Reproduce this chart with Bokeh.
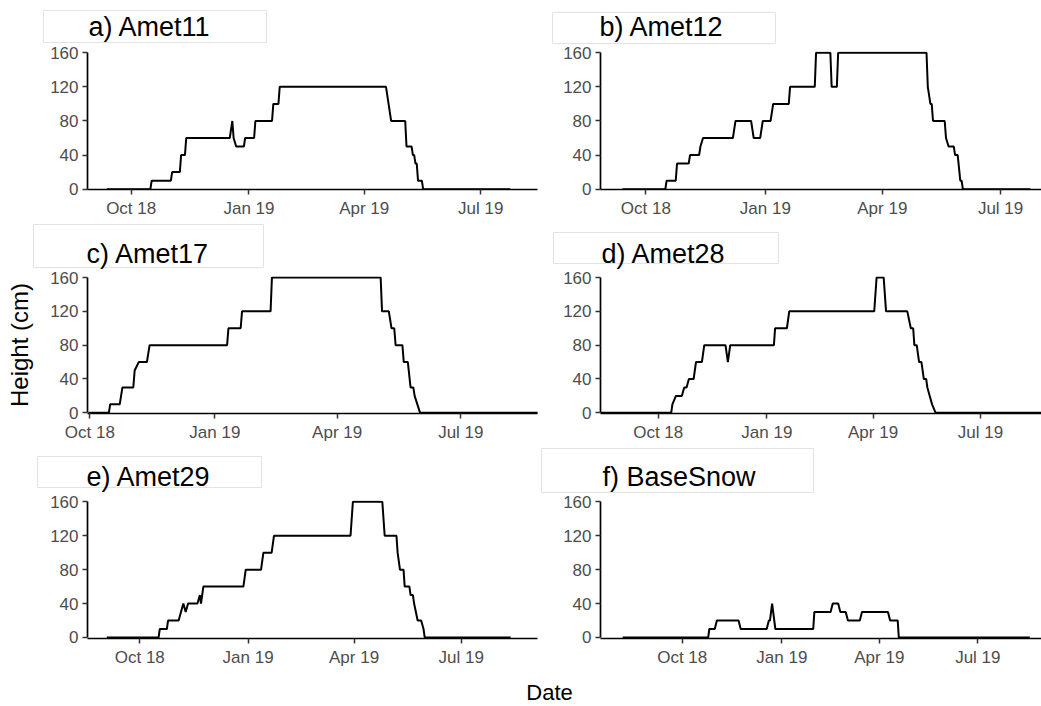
from math import pi
import pandas as pd
from bokeh.plotting import figure
from bokeh.layouts import column, row
from bokeh.models import Range1d, FixedTicker, DatetimeTickFormatter, LinearAxis
from bokeh.core.properties import value
from bokeh.embed import file_html
from bokeh.resources import INLINE

# ---------------- data ----------------
tick_dates = ["2018-10-01", "2019-01-01", "2019-04-01", "2019-07-01"]
tick_labels = ["Oct 18", "Jan 19", "Apr 19", "Jul 19"]
y_ticks = [0, 40, 80, 120, 160]
panel_titles = ["a) Amet11", "b) Amet12", "c) Amet17", "d) Amet28", "e) Amet29", "f) BaseSnow"]
y_label = "Height (cm)"
x_label = "Date"

a_dates = ["2018-09-12", "2018-10-16", "2018-10-17", "2018-11-01", "2018-11-02", "2018-11-08", "2018-11-09",
           "2018-11-12", "2018-11-13", "2018-12-17", "2018-12-19", "2018-12-20", "2018-12-22", "2018-12-28",
           "2018-12-29", "2019-01-05", "2019-01-06", "2019-01-19", "2019-01-20", "2019-01-24", "2019-01-25",
           "2019-04-18", "2019-04-20", "2019-04-22", "2019-05-03", "2019-05-04", "2019-05-08", "2019-05-09",
           "2019-05-10", "2019-05-11", "2019-05-12", "2019-05-13", "2019-05-16", "2019-05-17", "2019-07-24"]
a_vals = [0, 0, 10, 10, 20, 20, 40, 40, 60, 60, 80, 60, 50, 50, 60, 60, 80, 80, 100, 100, 120,
          120, 100, 80, 80, 50, 50, 40, 40, 30, 30, 10, 10, 0, 0]

b_dates = ["2018-09-13", "2018-10-16", "2018-10-17", "2018-10-24", "2018-10-25", "2018-11-03", "2018-11-04",
           "2018-11-11", "2018-11-12", "2018-11-14", "2018-12-07", "2018-12-09", "2018-12-21", "2018-12-23",
           "2018-12-28", "2018-12-30", "2019-01-05", "2019-01-07", "2019-01-19", "2019-01-20", "2019-02-08",
           "2019-02-09", "2019-02-20", "2019-02-21", "2019-02-25", "2019-02-26", "2019-05-05", "2019-05-06",
           "2019-05-08", "2019-05-09", "2019-05-10", "2019-05-19", "2019-05-20", "2019-05-22", "2019-05-26",
           "2019-05-27", "2019-05-29", "2019-05-31", "2019-06-01", "2019-06-02", "2019-07-24"]
b_vals = [0, 0, 10, 10, 30, 30, 40, 40, 50, 60, 60, 80, 80, 60, 60, 80, 80, 100, 100, 120, 120,
          160, 160, 120, 120, 160, 160, 120, 100, 100, 80, 80, 60, 50, 50, 40, 40, 10, 10, 0, 0]

c_dates = ["2018-09-30", "2018-10-15", "2018-10-16", "2018-10-23", "2018-10-25", "2018-11-02", "2018-11-03",
           "2018-11-06", "2018-11-12", "2018-11-14", "2019-01-10", "2019-01-11", "2019-01-20", "2019-01-21",
           "2019-02-11", "2019-02-12", "2019-05-03", "2019-05-04", "2019-05-09", "2019-05-11", "2019-05-13",
           "2019-05-14", "2019-05-19", "2019-05-20", "2019-05-23", "2019-05-25", "2019-05-27", "2019-05-28",
           "2019-05-30", "2019-06-01", "2019-08-31"]
c_vals = [0, 0, 10, 10, 30, 30, 50, 60, 60, 80, 80, 100, 100, 120, 120, 160, 160, 120, 120, 100,
          100, 80, 80, 60, 60, 30, 30, 20, 10, 0, 0]

d_dates = ["2018-08-13", "2018-10-12", "2018-10-13", "2018-10-16", "2018-10-21", "2018-10-23", "2018-10-25",
           "2018-10-27", "2018-10-31", "2018-11-02", "2018-11-07", "2018-11-09", "2018-11-27", "2018-11-29",
           "2018-12-01", "2019-01-07", "2019-01-08", "2019-01-18", "2019-01-20", "2019-04-02", "2019-04-04",
           "2019-04-10", "2019-04-12", "2019-04-30", "2019-05-03", "2019-05-05", "2019-05-06", "2019-05-08",
           "2019-05-10", "2019-05-12", "2019-05-14", "2019-05-16", "2019-05-17", "2019-05-19", "2019-05-21",
           "2019-05-24", "2019-08-31"]
d_vals = [0, 0, 10, 20, 20, 30, 30, 40, 40, 60, 60, 80, 80, 60, 80, 80, 100, 100, 120, 120, 160,
          160, 120, 120, 100, 100, 80, 80, 60, 60, 40, 40, 30, 20, 10, 0, 0]

e_dates = ["2018-09-03", "2018-10-17", "2018-10-18", "2018-10-24", "2018-10-25", "2018-11-03", "2018-11-05",
           "2018-11-07", "2018-11-09", "2018-11-11", "2018-11-19", "2018-11-21", "2018-11-22", "2018-11-24",
           "2018-12-28", "2018-12-30", "2019-01-12", "2019-01-14", "2019-01-21", "2019-01-23", "2019-03-29",
           "2019-03-31", "2019-04-25", "2019-04-27", "2019-05-07", "2019-05-08", "2019-05-10", "2019-05-13",
           "2019-05-14", "2019-05-18", "2019-05-19", "2019-05-21", "2019-05-22", "2019-05-25", "2019-05-28",
           "2019-05-30", "2019-05-31", "2019-08-12"]
e_vals = [0, 0, 10, 10, 20, 20, 30, 40, 30, 40, 40, 50, 40, 60, 60, 80, 80, 100, 100, 120, 120,
          160, 160, 120, 120, 100, 80, 80, 60, 60, 50, 50, 40, 20, 20, 10, 0, 0]

f_dates = ["2018-08-07", "2018-10-25", "2018-10-26", "2018-10-31", "2018-11-02", "2018-11-22", "2018-11-24",
           "2018-12-18", "2018-12-20", "2018-12-21", "2018-12-23", "2018-12-26", "2019-01-30", "2019-01-31",
           "2019-02-15", "2019-02-17", "2019-02-22", "2019-02-24", "2019-03-01", "2019-03-03", "2019-03-14",
           "2019-03-16", "2019-04-09", "2019-04-11", "2019-04-18", "2019-04-19", "2019-08-18"]
f_vals = [0, 0, 10, 10, 20, 20, 10, 10, 20, 20, 40, 10, 10, 30, 30, 40, 40, 30, 30, 20, 20,
          30, 30, 20, 20, 0, 0]

series_dates = [a_dates, b_dates, c_dates, d_dates, e_dates, f_dates]
series_vals = [a_vals, b_vals, c_vals, d_vals, e_vals, f_vals]

# ---------------- layout / style constants (page pixels) ----------------
FONT = "Liberation Sans"
ORIGIN = pd.Timestamp("2018-10-01")
TOTAL_W = 1041
# x range of each panel in days relative to ORIGIN (free x scales)
x_span_days = [(-34.1, 317.3), (-34.9, 304.5), (-1.7, 329.4), (-48.9, 324.7), (-44.4, 337.8), (-75.5, 331.8)]
y_spans = [(-0.4, 161.5), (-0.8, 161.2), (-1.2, 161.5)]

LEFT_W, RIGHT_W = 539, 502
LEFT_MB = (87, 2)
RIGHT_MB = (61, 0)

STRIP_TOP = [0, 220, 444]
STRIP_H = [44, 50, 50]
PANEL_H = [176, 174, 175]
PANEL_MB = [(7, 30), (6, 30), (6, 30)]   # top, bottom
DATE_TOP, DATE_H = 669, 36
TITLE_FS = 27
BASE_SHIFT = 0.32   # empirical correction of the alphabetic baseline (fraction of font size)

# title boxes (page px): left, right, top, bottom, text x, text baseline
boxes = [(43, 266, 10, 42, 88, 35), (552, 775, 12, 43, 599, 35),
         (33, 263, 224, 267, 86, 262.5), (553, 778, 232, 263, 601, 262),
         (37, 261, 456, 487, 86, 485), (541, 813, 448, 492, 602, 485)]

tick_ms = [(pd.Timestamp(d) - pd.Timestamp("1970-01-01")) / pd.Timedelta(milliseconds=1) for d in tick_dates]


def blank(width, height, x_range, y_range):
    p = figure(width=width, height=height, x_range=x_range, y_range=y_range,
               x_axis_location=None, y_axis_location=None, output_backend="svg",
               toolbar_location=None, min_border=0)
    p.outline_line_color = None
    p.grid.visible = False
    p.background_fill_color = "white"
    p.border_fill_color = "white"
    return p


def make_strip(r):
    top, h = STRIP_TOP[r], STRIP_H[r]
    s = blank(TOTAL_W, h, Range1d(0, TOTAL_W), Range1d(h, 0))
    idx = [2 * r, 2 * r + 1]
    s.quad(left=[boxes[i][0] for i in idx], right=[boxes[i][1] for i in idx],
           top=[boxes[i][2] - top for i in idx], bottom=[boxes[i][3] - top for i in idx],
           fill_color="white", line_color="#e3e3e3", line_width=1)
    s.text(x=[boxes[i][4] for i in idx], y=[boxes[i][5] - top - BASE_SHIFT * TITLE_FS for i in idx],
           text=[panel_titles[i] for i in idx], text_font=value(FONT),
           text_font_size=value(f"{TITLE_FS}px"),
           text_color="black", text_align="left", text_baseline="alphabetic")
    return s


def make_panel(i):
    r, c = divmod(i, 2)
    width = LEFT_W if c == 0 else RIGHT_W
    mbl, mbr = LEFT_MB if c == 0 else RIGHT_MB
    mbt, mbb = PANEL_MB[r]
    x0, x1 = x_span_days[i]
    p = figure(width=width, height=PANEL_H[r], x_axis_type="datetime",
               x_range=Range1d(ORIGIN + pd.Timedelta(days=x0), ORIGIN + pd.Timedelta(days=x1)),
               y_range=Range1d(*y_spans[r]),
               output_backend="svg", toolbar_location=None,
               min_border_left=mbl, min_border_right=mbr, min_border_top=mbt, min_border_bottom=mbb)
    p.outline_line_color = None
    p.grid.visible = False
    p.background_fill_color = "white"
    p.border_fill_color = "white"

    p.line(pd.to_datetime(series_dates[i]), series_vals[i], line_color="black", line_width=2)

    p.xaxis.ticker = FixedTicker(ticks=tick_ms)
    p.xaxis.formatter = DatetimeTickFormatter(days="%b %y", months="%b %y", years="%b %y")
    p.xaxis.major_label_overrides = {t: lbl for t, lbl in zip(tick_ms, tick_labels)}
    p.yaxis.ticker = FixedTicker(ticks=y_ticks)
    p.yaxis.bounds = (0, 160)
    for ax in (p.xaxis, p.yaxis):
        ax.axis_line_color = "black"
        ax.axis_line_width = 1.7
        ax.major_tick_line_color = "#333333"
        ax.major_tick_line_width = 1.5
        ax.major_tick_out = 5
        ax.major_tick_in = 0
        ax.minor_tick_line_color = None
        ax.major_label_text_font = FONT
        ax.major_label_text_font_size = "17px"
        ax.major_label_text_color = "#4d4d4d"
        ax.major_label_standoff = 4
    return p


strips = [make_strip(r) for r in range(3)]
panels = [make_panel(i) for i in range(6)]

# shared y-axis title: an extra, otherwise invisible left axis on panel c
ytitle_axis = LinearAxis(ticker=FixedTicker(ticks=[]), bounds=(0, 134),
                         axis_line_color=None, major_tick_line_color=None, minor_tick_line_color=None,
                         major_tick_out=0, major_tick_in=0, major_label_standoff=0,
                         axis_label=y_label, axis_label_standoff=15,
                         axis_label_text_font=FONT, axis_label_text_font_size="24px",
                         axis_label_text_font_style="normal", axis_label_text_color="black")
panels[2].add_layout(ytitle_axis, "left")

# x-axis title strip
pdate = blank(TOTAL_W, DATE_H, Range1d(0, TOTAL_W), Range1d(DATE_H, 0))
pdate.text(x=[549], y=[699 - DATE_TOP - BASE_SHIFT * 22], text=[x_label], text_font=value(FONT),
           text_font_size=value("22px"), text_color="black",
           text_align="center", text_baseline="alphabetic")

layout = column(strips[0], row(panels[0], panels[1]),
                strips[1], row(panels[2], panels[3]),
                strips[2], row(panels[4], panels[5]),
                pdate)

open("out.html", "w").write(file_html(layout, INLINE))
